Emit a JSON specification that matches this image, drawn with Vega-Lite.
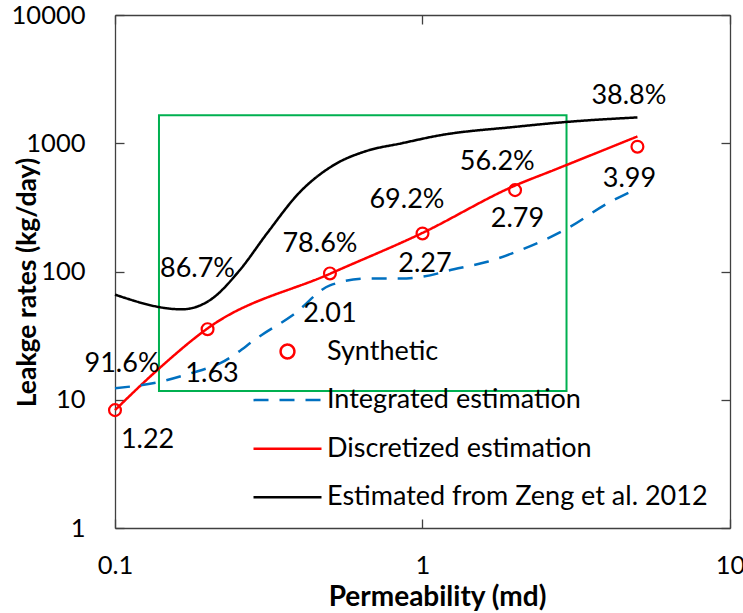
{
  "$schema": "https://vega.github.io/schema/vega-lite/v6.json",
  "width": 615,
  "height": 513,
  "autosize": {"type": "none"},
  "padding": {"left": 115, "top": 15, "right": 13, "bottom": 85},
  "background": "white",
  "config": {"view": {"stroke": null}, "font": "Lato", "axis": {"grid": false}},
  "datasets": {
    "box": [{"x1": 0.139, "x2": 2.94, "y1": 11.7, "y2": 1650}],
    "lines": [
      {"series": "Discretized estimation", "x": 0.1, "y": 8.3},
      {"series": "Discretized estimation", "x": 0.139, "y": 17.5},
      {"series": "Discretized estimation", "x": 0.2, "y": 36},
      {"series": "Discretized estimation", "x": 0.5, "y": 96},
      {"series": "Discretized estimation", "x": 1, "y": 200},
      {"series": "Discretized estimation", "x": 2, "y": 468},
      {"series": "Discretized estimation", "x": 2.67, "y": 617},
      {"series": "Discretized estimation", "x": 5, "y": 1130},
      {"series": "Integrated estimation", "x": 0.1, "y": 12.3},
      {"series": "Integrated estimation", "x": 0.14, "y": 13.8},
      {"series": "Integrated estimation", "x": 0.175, "y": 16},
      {"series": "Integrated estimation", "x": 0.22, "y": 19.3},
      {"series": "Integrated estimation", "x": 0.3, "y": 32},
      {"series": "Integrated estimation", "x": 0.38, "y": 46},
      {"series": "Integrated estimation", "x": 0.5, "y": 78},
      {"series": "Integrated estimation", "x": 0.66, "y": 88},
      {"series": "Integrated estimation", "x": 0.85, "y": 88},
      {"series": "Integrated estimation", "x": 1, "y": 91},
      {"series": "Integrated estimation", "x": 1.265, "y": 104},
      {"series": "Integrated estimation", "x": 1.625, "y": 119},
      {"series": "Integrated estimation", "x": 2.086, "y": 147},
      {"series": "Integrated estimation", "x": 2.96, "y": 217},
      {"series": "Integrated estimation", "x": 4, "y": 340},
      {"series": "Integrated estimation", "x": 5, "y": 444},
      {"series": "Estimated from Zeng et al. 2012", "x": 0.1, "y": 66},
      {"series": "Estimated from Zeng et al. 2012", "x": 0.165, "y": 50.7},
      {"series": "Estimated from Zeng et al. 2012", "x": 0.204, "y": 60},
      {"series": "Estimated from Zeng et al. 2012", "x": 0.255, "y": 103},
      {"series": "Estimated from Zeng et al. 2012", "x": 0.312, "y": 198},
      {"series": "Estimated from Zeng et al. 2012", "x": 0.4, "y": 418},
      {"series": "Estimated from Zeng et al. 2012", "x": 0.514, "y": 675},
      {"series": "Estimated from Zeng et al. 2012", "x": 0.66, "y": 873},
      {"series": "Estimated from Zeng et al. 2012", "x": 0.85, "y": 996},
      {"series": "Estimated from Zeng et al. 2012", "x": 1.145, "y": 1156},
      {"series": "Estimated from Zeng et al. 2012", "x": 2, "y": 1342},
      {"series": "Estimated from Zeng et al. 2012", "x": 2.96, "y": 1468},
      {"series": "Estimated from Zeng et al. 2012", "x": 5, "y": 1590}
    ],
    "pts": [
      {"series": "Synthetic", "x": 0.1, "y": 8.3},
      {"series": "Synthetic", "x": 0.2, "y": 35.5},
      {"series": "Synthetic", "x": 0.5, "y": 96.6},
      {"series": "Synthetic", "x": 1, "y": 198},
      {"series": "Synthetic", "x": 2, "y": 431},
      {"series": "Synthetic", "x": 5, "y": 940}
    ],
    "labels": [
      {"t": "38.8%", "x": 4.69, "y": 2028},
      {"t": "56.2%", "x": 1.75, "y": 620},
      {"t": "69.2%", "x": 0.89, "y": 313},
      {"t": "78.6%", "x": 0.464, "y": 142.2},
      {"t": "86.7%", "x": 0.1855, "y": 90.8},
      {"t": "91.6%", "x": 0.1054, "y": 16.5},
      {"t": "1.22", "x": 0.1276, "y": 4.21},
      {"t": "1.63", "x": 0.2068, "y": 13.77},
      {"t": "2.01", "x": 0.5003, "y": 40.4},
      {"t": "2.27", "x": 1.019, "y": 99.3},
      {"t": "2.79", "x": 2.037, "y": 222.8},
      {"t": "3.99", "x": 4.71, "y": 457}
    ]
  },
  "layer": [
    {
      "data": {"name": "box"},
      "mark": {"type": "rect", "filled": false, "stroke": "#00B050", "strokeWidth": 2},
      "encoding": {
        "x": {"field": "x1", "type": "quantitative",
          "scale": {"type": "log", "domain": [0.1, 10], "nice": false},
          "axis": {"orient": "top", "labels": false, "title": null, "values": [0.1, 1, 10], "tickSize": -9, "tickColor": "#404040", "domainColor": "#404040", "domainWidth": 1.3, "tickWidth": 1.3}},
        "x2": {"field": "x2"},
        "y": {"field": "y1", "type": "quantitative",
          "scale": {"type": "log", "domain": [1, 10000], "nice": false},
          "axis": {"orient": "right", "labels": false, "title": null, "values": [1, 10, 100, 1000, 10000], "tickSize": -9, "tickColor": "#404040", "domainColor": "#404040", "domainWidth": 1.3, "tickWidth": 1.3}},
        "y2": {"field": "y2"}
      }
    },
    {
      "data": {"name": "lines"},
      "mark": {"type": "line", "interpolate": "monotone"},
      "encoding": {
        "x": {"field": "x", "type": "quantitative",
          "scale": {"type": "log", "domain": [0.1, 10], "nice": false},
          "axis": {"orient": "bottom", "values": [0.1, 1, 10], "format": "~g", "tickSize": -9, "tickColor": "#404040", "domainColor": "#404040", "domainWidth": 1.3, "tickWidth": 1.3,
            "labelFont": "Lato", "labelFontSize": 25.5, "labelColor": "black", "labelPadding": 34, "labelFlush": false,
            "title": "Permeability (md)", "titleFont": "Lato", "titleFontSize": 28, "titleFontWeight": "bold", "titleColor": "black",
            "titleBaseline": "alphabetic", "titleX": 322, "titleY": 77, "titleAnchor": "middle", "titleAlign": "center"}},
        "y": {"field": "y", "type": "quantitative",
          "scale": {"type": "log", "domain": [1, 10000], "nice": false},
          "axis": {"orient": "left", "values": [1, 10, 100, 1000, 10000], "format": "d", "tickSize": -9, "tickColor": "#404040", "domainColor": "#404040", "domainWidth": 1.3, "tickWidth": 1.3,
            "labelFont": "Lato", "labelFontSize": 25.5, "labelColor": "black", "labelPadding": 39, "labelFlush": false,
            "title": "Leakge rates (kg/day)", "titleFont": "Lato", "titleFontSize": 26.5, "titleFontWeight": "bold", "titleColor": "black",
            "titleAngle": -90, "titleBaseline": "alphabetic", "titleX": -80, "titleY": 267, "titleAlign": "center", "titleAnchor": "middle"}},
        "color": {"field": "series", "type": "nominal",
          "scale": {"domain": ["Synthetic", "Integrated estimation", "Discretized estimation", "Estimated from Zeng et al. 2012"], "range": ["#FF0000", "#0070C0", "#FF0000", "#000000"]},
          "legend": {
            "title": null, "orient": "none", "legendX": 154, "legendY": 318, "padding": 0,
            "labelFont": "Lato", "labelFontSize": 27, "labelColor": "black", "labelOffset": 21, "labelLimit": 0,
            "symbolSize": 1156, "symbolStrokeWidth": 2.5, "rowPadding": 16.6, "symbolType": "M-2,0H2",
            "encode": {"symbols": {"update": {
              "shape": {"signal": "datum.value === 'Synthetic' ? 'circle' : 'M-2,0H2'"},
              "size": {"signal": "datum.value === 'Synthetic' ? 190 : 1156"},
              "strokeDash": {"signal": "datum.value === 'Integrated estimation' ? [15, 11] : [1, 0]"},
              "fill": {"value": "transparent"},
              "stroke": {"signal": "scale('color', datum.value)"},
              "strokeWidth": {"value": 2.5},
              "opacity": {"value": 1}
            }}}
          }},
        "strokeDash": {"field": "series", "type": "nominal",
          "scale": {"domain": ["Synthetic", "Integrated estimation", "Discretized estimation", "Estimated from Zeng et al. 2012"], "range": [[1, 0], [15, 11], [1, 0], [1, 0]]},
          "legend": null},
        "strokeWidth": {"field": "series", "type": "nominal",
          "scale": {"domain": ["Synthetic", "Integrated estimation", "Discretized estimation", "Estimated from Zeng et al. 2012"], "range": [2.5, 2.5, 2.5, 2]},
          "legend": null}
      }
    },
    {
      "data": {"name": "pts"},
      "mark": {"type": "point", "shape": "circle", "filled": false, "size": 140, "strokeWidth": 2.2, "opacity": 1},
      "encoding": {
        "x": {"field": "x", "type": "quantitative", "scale": {"type": "log", "domain": [0.1, 10], "nice": false}, "axis": null},
        "y": {"field": "y", "type": "quantitative", "scale": {"type": "log", "domain": [1, 10000], "nice": false}, "axis": null},
        "color": {"field": "series", "type": "nominal"}
      }
    },
    {
      "data": {"name": "labels"},
      "mark": {"type": "text", "font": "Lato", "fontSize": 27, "align": "center", "baseline": "alphabetic", "color": "black"},
      "encoding": {
        "x": {"field": "x", "type": "quantitative", "scale": {"type": "log", "domain": [0.1, 10], "nice": false}, "axis": null},
        "y": {"field": "y", "type": "quantitative", "scale": {"type": "log", "domain": [1, 10000], "nice": false}, "axis": null},
        "text": {"field": "t"}
      }
    }
  ],
  "resolve": {"axis": {"x": "independent", "y": "independent"}}
}
